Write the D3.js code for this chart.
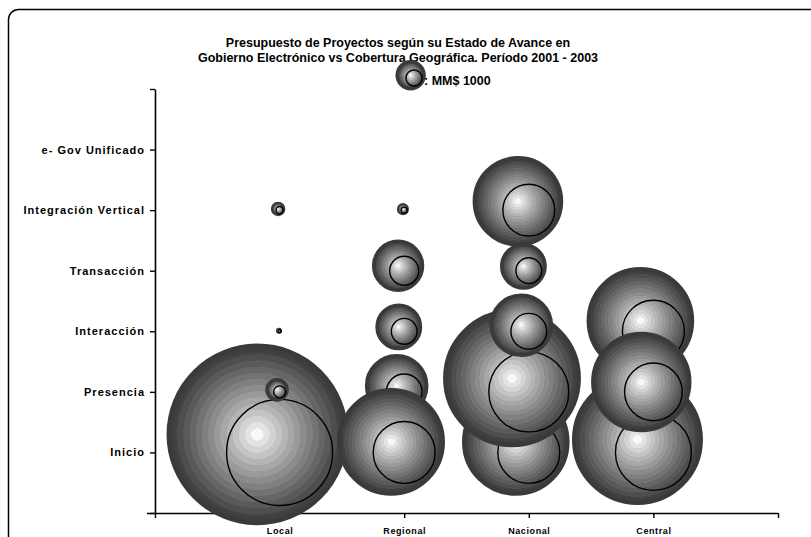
<!DOCTYPE html>
<html><head><meta charset="utf-8">
<script src="https://cdn.jsdelivr.net/npm/d3@7"></script>
<style>
body{margin:0;background:#fff;}
svg text{font-family:"Liberation Sans",Arial,sans-serif;font-weight:bold;fill:#000;}
</style>
</head><body><svg id="c" width="811" height="537"></svg>
<script>
// ---- data (MM$) ----
const categories = ["Local", "Regional", "Nacional", "Central"];
const stages = ["Inicio", "Presencia", "Interacción", "Transacción", "Integración Vertical", "e- Gov Unificado"];
const localValues    = [43900,   560,   35, null,   200, null];
const regionalValues = [15000,  5000, 2600, 3300,   140, null];
const nacionalValues = [15000, 25000, 5000, 2600, 10500, null];
const centralValues  = [22500, 13000, 15000, null, null, null];
// stacking order of the bubbles inside each column (stage indices, first drawn at the back)
const drawOrder = [[0, 1, 2, 3, 4, 5], [1, 0, 2, 3, 4, 5], [0, 1, 2, 3, 4, 5], [2, 0, 1, 3, 4, 5]];
const titleLines = ["Presupuesto de Proyectos según su Estado de Avance en",
                    "Gobierno Electrónico vs Cobertura Geográfica. Período 2001 - 2003"];
const legendValue = 1000;
const legendLabel = ": MM$ 1000";

const columns = [localValues, regionalValues, nacionalValues, centralValues];
const points = [];
columns.forEach((vals, ci) => drawOrder[ci].forEach(si => {
  const v = vals[si];
  if (v != null) points.push({x: ci + 1, y: si + 1, v});
}));

const svg = d3.select("#c");

const x = d3.scaleLinear().domain([0, 5]).range([155, 778]);
const y = d3.scaleLinear().domain([0, 7]).range([513, 89]);
const r = d3.scaleSqrt().domain([0, legendValue]).range([0, 8]);

// gradient: stepped grey bands
const defs = svg.append("defs");
const g1 = defs.append("radialGradient").attr("id", "sphere")
  .attr("cx", 0.5).attr("cy", 0.5).attr("r", 0.5);
const nb = 13;
for (let i = 0; i < nb; i++) {
  const t0 = i / nb * 0.9, t1 = (i + 1) / nb * 0.9;
  const gv = Math.round(248 - (248 - 78) * Math.pow(i / (nb - 1), 0.85));
  const c = `rgb(${gv},${gv},${gv})`;
  g1.append("stop").attr("offset", t0).attr("stop-color", c);
  g1.append("stop").attr("offset", t1).attr("stop-color", c);
}
g1.append("stop").attr("offset", 0.9).attr("stop-color", "#444");
g1.append("stop").attr("offset", 1).attr("stop-color", "#393939");

// frame
svg.append("rect").attr("x", 8.5).attr("y", 9.5).attr("width", 840).attr("height", 545)
  .attr("rx", 10).attr("fill", "none").attr("stroke", "#000").attr("stroke-width", 1.5);

// title
svg.append("g").selectAll("text").data(titleLines).join("text")
  .attr("x", 398).attr("y", (d, i) => 46.5 + i * 15.5)
  .attr("text-anchor", "middle").attr("font-size", "12.5px")
  .text(d => d);

// bubble drawing helper
function bubble(sel, cx, cy, rr) {
  const ro = rr * 1.68;
  sel.append("circle")
    .attr("cx", cx - 0.42 * rr).attr("cy", cy - 0.34 * rr).attr("r", ro)
    .attr("fill", "url(#sphere)").attr("stroke", "#3a3a3a").attr("stroke-width", Math.min(3.5, ro * 0.4));
  sel.append("circle")
    .attr("cx", cx).attr("cy", cy).attr("r", rr)
    .attr("fill", "none").attr("stroke", "#000").attr("stroke-width", 1.4);
}

// legend bubble in title
const lg = svg.append("g");
bubble(lg, 414, 78, r(legendValue));
svg.append("text").attr("x", 424).attr("y", 85).attr("font-size", "12.5px").text(legendLabel);

// axes
const yAxis = d3.axisLeft(y).tickValues(d3.range(0, 8)).tickSize(5).tickSizeOuter(0).tickPadding(5)
  .tickFormat(d => stages[d - 1] || "");
const gy = svg.append("g").attr("transform", `translate(${x(0)},0)`).call(yAxis);
gy.selectAll("text").attr("font-size", "11px").style("letter-spacing", "1px")
  .attr("font-family", "Liberation Sans, Arial, sans-serif").attr("font-weight", "bold");

const xAxis = d3.axisBottom(x).tickValues(d3.range(0, 6)).tickSize(5).tickSizeOuter(0).tickPadding(10)
  .tickFormat(d => categories[d - 1] || "");
const gx = svg.append("g").attr("transform", `translate(0,${y(0)})`).call(xAxis);
gx.selectAll("text").attr("font-size", "9px").style("letter-spacing", "0.6px")
  .attr("font-family", "Liberation Sans, Arial, sans-serif").attr("font-weight", "bold");

[gx, gy].forEach(g => {
  g.select(".domain").attr("stroke", "#000").attr("stroke-width", 1.6);
  g.selectAll(".tick line").attr("stroke", "#000").attr("stroke-width", 1.4);
});
gx.select(".domain").attr("d", `M${x(0) - 8},0.5H${x(5)}`);

// bubbles
const gb = svg.append("g");
points.forEach(p => bubble(gb, x(p.x), y(p.y), r(p.v)));
</script>
</body></html>
